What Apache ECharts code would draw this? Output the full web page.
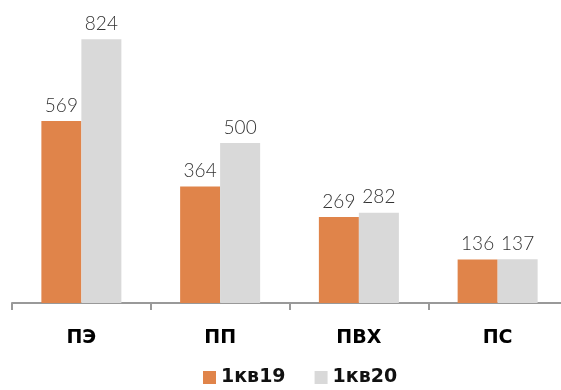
<!DOCTYPE html>
<html>
<head>
<meta charset="utf-8">
<script src="https://cdn.jsdelivr.net/npm/echarts@6/dist/echarts.min.js"></script>
<style>
  html, body { margin: 0; padding: 0; background: #fff; }
  #chart { width: 561px; height: 390px; }
</style>
</head>
<body>
<div id="chart"></div>
<script>
const categories = ['ПЭ', 'ПП', 'ПВХ', 'ПС']
const q1_19 = [569, 364, 269, 136]
const q1_20 = [824, 500, 282, 137]

const chart = echarts.init(document.getElementById('chart'))

const labelStyle = {
  show: true,
  position: 'top',
  distance: 6,
  color: '#333',
  fontFamily: 'Lato',
  fontWeight: 300,
  fontSize: 19,
}

chart.setOption({
  animation: false,
  grid: { left: 12, top: 15, width: 555, bottom: 87, containLabel: false, outerBoundsMode: 'none' },
  legend: {
    data: ['1кв19', '1кв20'],
    left: 198,
    top: 363,
    icon: 'rect',
    itemWidth: 13,
    itemHeight: 13,
    itemGap: 29,
    textStyle: { color: '#111', fontSize: 19, fontWeight: 'bold', fontFamily: 'DejaVu Sans' },
  },
  xAxis: {
    type: 'category',
    data: categories,
    axisLine: { lineStyle: { color: '#999', width: 2 } },
    axisTick: { show: true, length: 7, lineStyle: { color: '#999', width: 2 } },
    axisLabel: { color: '#000', fontWeight: 'bold', fontSize: 19, margin: 26, fontFamily: 'DejaVu Sans' },
  },
  yAxis: {
    type: 'value',
    min: 0,
    max: 900,
    show: false,
    splitLine: { show: false },
  },
  series: [
    {
      name: '1кв19',
      type: 'bar',
      data: q1_19,
      barWidth: 40,
      barGap: '0%',
      itemStyle: { color: '#E0844A' },
      label: labelStyle,
    },
    {
      name: '1кв20',
      type: 'bar',
      data: q1_20,
      barWidth: 40,
      itemStyle: { color: '#D9D9D9' },
      label: labelStyle,
    },
  ],
})
</script>
</body>
</html>
